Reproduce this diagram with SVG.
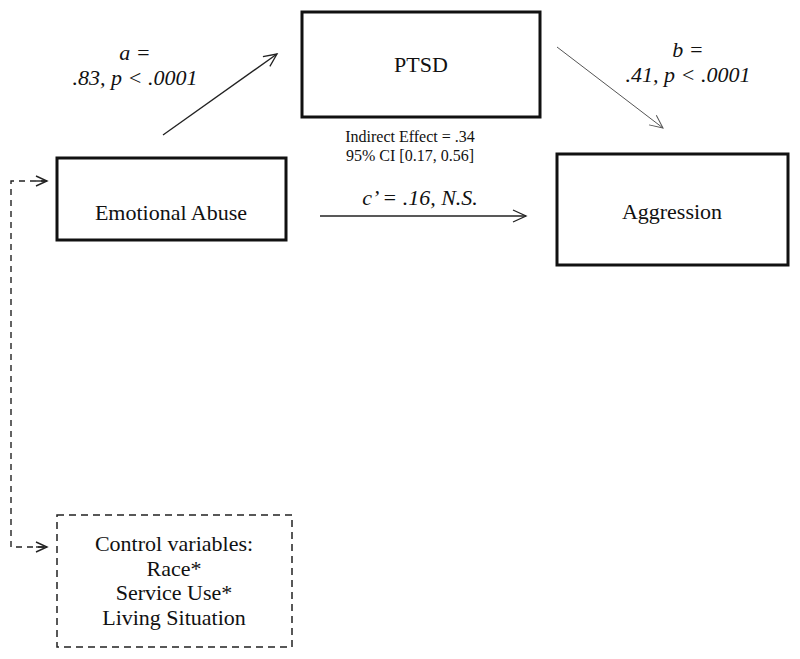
<svg xmlns="http://www.w3.org/2000/svg" width="800" height="659" viewBox="0 0 800 659">
<defs>
<marker id="open" markerWidth="16" markerHeight="14" refX="14" refY="7" orient="auto" markerUnits="userSpaceOnUse">
<path d="M1,1 L14,7 L1,13" fill="none" stroke="#222" stroke-width="1.3"/>
</marker>
<marker id="openg" markerWidth="16" markerHeight="14" refX="14" refY="7" orient="auto" markerUnits="userSpaceOnUse">
<path d="M1,1 L14,7 L1,13" fill="none" stroke="#555" stroke-width="1"/>
</marker>
<marker id="opend" markerWidth="14" markerHeight="12" refX="12" refY="6" orient="auto" markerUnits="userSpaceOnUse">
<path d="M1,1 L12,6 L1,11" fill="none" stroke="#222" stroke-width="1.4"/>
</marker>
</defs>
<style>
.box{fill:#fff;stroke:#111;stroke-width:3}
.dbox{fill:#fff;stroke:#222;stroke-width:1.5;stroke-dasharray:7,5}
text{font-family:"Liberation Serif",serif;fill:#111;text-anchor:middle}
.lbl{font-size:22px}
.it{font-size:22px;font-style:italic}
.sm{font-size:16px}
</style>
<rect width="800" height="659" fill="#fff"/>
<g id="connectors">
<line x1="163" y1="135" x2="277" y2="54" stroke="#222" stroke-width="1.3" marker-end="url(#open)"/>
<line x1="557" y1="47" x2="663" y2="128" stroke="#555" stroke-width="1" marker-end="url(#openg)"/>
<line x1="320" y1="216" x2="526" y2="216" stroke="#222" stroke-width="1.5" marker-end="url(#open)"/>
<polyline points="47,181 11,181 11,547 47,547" fill="none" stroke="#222" stroke-width="1.4" stroke-dasharray="6,5"/>
<line x1="36" y1="181" x2="47" y2="181" stroke="#222" stroke-width="1.4" marker-end="url(#opend)"/>
<line x1="36" y1="547" x2="47" y2="547" stroke="#222" stroke-width="1.4" marker-end="url(#opend)"/>
<text class="it" font-family="Liberation Serif, serif" x="135" y="60">a =</text>
<text class="it" font-family="Liberation Serif, serif" x="135" y="85">.83, p &lt; .0001</text>
<text class="it" font-family="Liberation Serif, serif" x="688" y="57">b =</text>
<text class="it" font-family="Liberation Serif, serif" x="688" y="82">.41, p &lt; .0001</text>
<text class="it" font-family="Liberation Serif, serif" x="420" y="205">c’ = .16, N.S.</text>
<text class="sm" font-family="Liberation Serif, serif" x="410" y="142">Indirect Effect = .34</text>
<text class="sm" font-family="Liberation Serif, serif" x="410" y="161">95% CI [0.17, 0.56]</text>
</g>
<g id="emotional-abuse">
<rect class="box" x="57" y="158" width="229" height="82"/>
<text class="lbl" font-family="Liberation Serif, serif" x="171" y="220">Emotional Abuse</text>
</g>
<g id="ptsd">
<rect class="box" x="302" y="12" width="238" height="105"/>
<text class="lbl" font-family="Liberation Serif, serif" x="421" y="72">PTSD</text>
</g>
<g id="aggression">
<rect class="box" x="557" y="154" width="231" height="111"/>
<text class="lbl" font-family="Liberation Serif, serif" x="672" y="219">Aggression</text>
</g>
<g id="control-variables">
<rect class="dbox" x="57" y="515" width="235" height="132"/>
<text class="lbl" font-family="Liberation Serif, serif" x="174" y="551">Control variables:</text>
<text class="lbl" font-family="Liberation Serif, serif" x="174" y="576">Race*</text>
<text class="lbl" font-family="Liberation Serif, serif" x="174" y="600">Service Use*</text>
<text class="lbl" font-family="Liberation Serif, serif" x="174" y="625">Living Situation</text>
</g>
</svg>
